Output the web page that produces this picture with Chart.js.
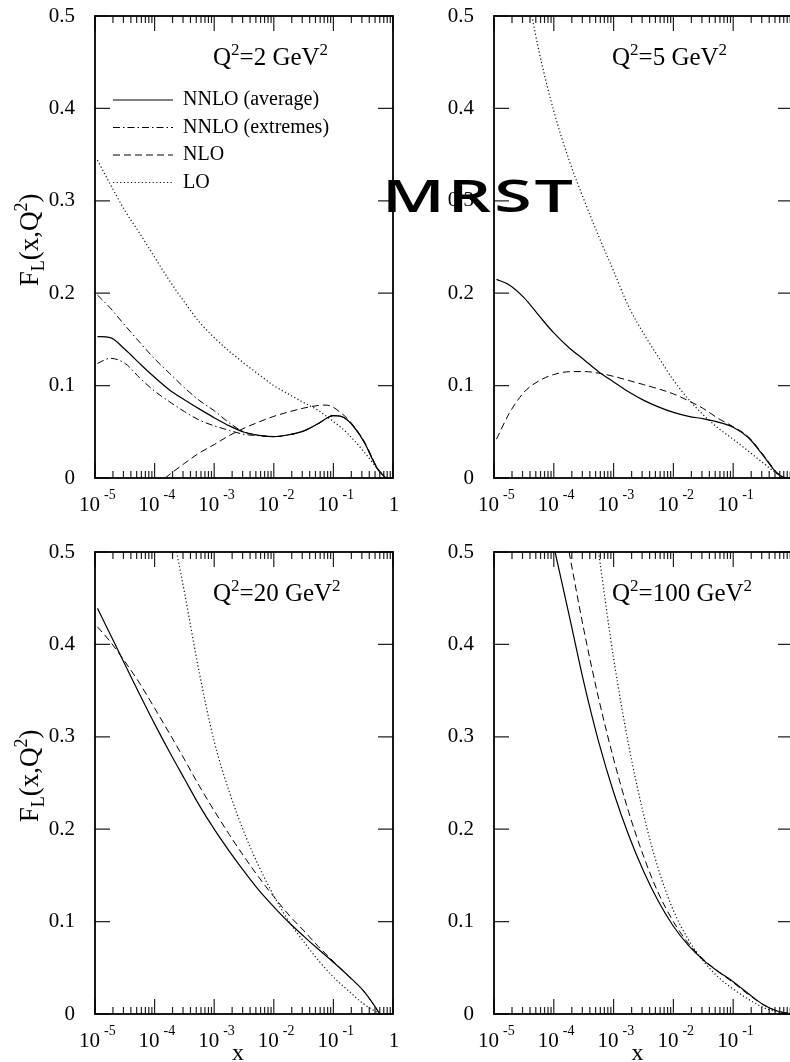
<!DOCTYPE html>
<html>
<head>
<meta charset="utf-8">
<script src="https://cdn.jsdelivr.net/npm/chart.js@4.4.1/dist/chart.umd.min.js"></script>
<style>
html,body{margin:0;padding:0;background:#fff;overflow:hidden;width:790px;height:1062px;}
canvas{position:absolute;}
#mrst{position:absolute;left:382px;top:171px;font:600 46px "Open Sans";letter-spacing:2px;transform-origin:0 0;color:#000;line-height:1;white-space:nowrap;z-index:5;}
</style>
</head>
<body>
<canvas id="c1" width="440" height="530" style="left:0;top:0"></canvas>
<canvas id="c2" width="440" height="530" style="left:400px;top:0"></canvas>
<canvas id="c3" width="440" height="532" style="left:0;top:530px"></canvas>
<canvas id="c4" width="440" height="532" style="left:400px;top:530px"></canvas>
<div id="mrst">MRST</div>
<script>
// ---------- axis / tick definitions ----------
const xMajorTicks = [1e-5, 1e-4, 1e-3, 1e-2, 1e-1, 1];
const xTickExponents = ['-5', '-4', '-3', '-2', '-1', ''];
const xMinorMultipliers = [2, 3, 4, 5, 6, 7, 8, 9];
const yTicks = [0, 0.1, 0.2, 0.3, 0.4, 0.5];
const q2Values = ['2', '5', '20', '100'];
const seriesLabels = ['NNLO (average)', 'NNLO (extremes)', 'NLO', 'LO'];

// ---------- panel 1 : Q^2 = 2 GeV^2 ----------
const x1 = [1.1e-5, 1.8e-5, 3.2e-5, 5.6e-5, 1e-4, 1.8e-4, 3.2e-4, 5.6e-4, 1e-3, 1.8e-3, 3.2e-3, 5.6e-3, 1e-2, 1.8e-2, 3.2e-2, 5.6e-2, 0.1, 0.13, 0.18, 0.32, 0.56, 0.76];
const nnloAvg1 = [0.153, 0.152, 0.139, 0.124, 0.109, 0.095, 0.0844, 0.0748, 0.0653, 0.0564, 0.0495, 0.0462, 0.0448, 0.0468, 0.051, 0.059, 0.0675, 0.067, 0.0615, 0.040, 0.009, 0];
const nnloHi1  = [0.198, 0.184, 0.165, 0.147, 0.129, 0.113, 0.0975, 0.084, 0.0728, 0.0595, 0.0497, 0.0463, 0.0448, 0.0468, 0.051, 0.059, 0.0675, 0.067, 0.0615, 0.040, 0.009, 0];
const nnloLo1  = [0.124, 0.1295, 0.124, 0.1085, 0.094, 0.0823, 0.0717, 0.0627, 0.0565, 0.0515, 0.0472, 0.0458, 0.0448, 0.0468, 0.051, 0.059, 0.0675, 0.067, 0.0615, 0.040, 0.009, 0];
const x1nlo = [1.5e-4, 1.8e-4, 3.2e-4, 5.6e-4, 1e-3, 1.8e-3, 3.2e-3, 5.6e-3, 1e-2, 1.8e-2, 3.2e-2, 5.6e-2, 7.5e-2, 0.1, 0.13, 0.18, 0.32, 0.56, 0.76];
const nlo1 = [0, 0.004, 0.016, 0.027, 0.0362, 0.046, 0.054, 0.0606, 0.0667, 0.0716, 0.0757, 0.0785, 0.0789, 0.0765, 0.071, 0.063, 0.041, 0.010, 0];
const lo1 = [0.344, 0.318, 0.289, 0.265, 0.239, 0.213, 0.190, 0.169, 0.152, 0.137, 0.124, 0.112, 0.100, 0.0905, 0.0815, 0.073, 0.061, 0.0555, 0.047, 0.029, 0.0095, 0.001];

// ---------- panel 2 : Q^2 = 5 GeV^2 ----------
const x2 = [1.1e-5, 1.8e-5, 3.2e-5, 5.6e-5, 1e-4, 1.8e-4, 3.2e-4, 5.6e-4, 1e-3, 1.8e-3, 3.2e-3, 5.6e-3, 1e-2, 1.8e-2, 3.2e-2, 5.6e-2, 0.1, 0.18, 0.32, 0.56, 0.76];
const nnloAvg2 = [0.215, 0.209, 0.195, 0.176, 0.157, 0.141, 0.128, 0.115, 0.104, 0.093, 0.084, 0.077, 0.071, 0.0667, 0.064, 0.0605, 0.055, 0.0435, 0.024, 0.004, 0];
const nlo2 = [0.042, 0.070, 0.093, 0.105, 0.112, 0.115, 0.1152, 0.1135, 0.110, 0.1055, 0.101, 0.0965, 0.091, 0.0835, 0.075, 0.0645, 0.0555, 0.0445, 0.025, 0.005, 0];
const x2lo = [4.3e-5, 5.6e-5, 1e-4, 1.8e-4, 3.2e-4, 5.6e-4, 1e-3, 1.8e-3, 3.2e-3, 5.6e-3, 1e-2, 1.8e-2, 3.2e-2, 5.6e-2, 0.1, 0.18, 0.32, 0.56, 0.76];
const lo2 = [0.5, 0.463, 0.397, 0.344, 0.301, 0.262, 0.224, 0.185, 0.156, 0.131, 0.106, 0.085, 0.068, 0.054, 0.042, 0.029, 0.016, 0.004, 0];

// ---------- panel 3 : Q^2 = 20 GeV^2 ----------
const x3 = [1.1e-5, 1.8e-5, 3.2e-5, 5.6e-5, 1e-4, 1.8e-4, 3.2e-4, 5.6e-4, 1e-3, 1.8e-3, 3.2e-3, 5.6e-3, 1e-2, 1.8e-2, 3.2e-2, 5.6e-2, 0.1, 0.18, 0.32, 0.5, 0.6];
const nnloAvg3 = [0.439, 0.411, 0.378, 0.346, 0.314, 0.283, 0.254, 0.226, 0.200, 0.176, 0.154, 0.134, 0.116, 0.099, 0.084, 0.070, 0.056, 0.041, 0.025, 0.008, 0];
const nlo3 = [0.419, 0.403, 0.381, 0.358, 0.331, 0.303, 0.275, 0.247, 0.220, 0.194, 0.170, 0.148, 0.127, 0.107, 0.090, 0.073, 0.057, 0.041, 0.025, 0.008, 0];
const x3lo = [2.34e-4, 3.2e-4, 5.6e-4, 1e-3, 1.8e-3, 3.2e-3, 5.6e-3, 1e-2, 1.8e-2, 3.2e-2, 5.6e-2, 0.1, 0.18, 0.32, 0.5, 0.6];
const lo3 = [0.5, 0.455, 0.370, 0.295, 0.240, 0.196, 0.160, 0.128, 0.100, 0.078, 0.058, 0.040, 0.025, 0.011, 0.003, 0];

// ---------- panel 4 : Q^2 = 100 GeV^2 ----------
const x4 = [1.05e-4, 1.8e-4, 3.2e-4, 5.6e-4, 1e-3, 1.8e-3, 3.2e-3, 5.6e-3, 1e-2, 1.8e-2, 3.2e-2, 5.6e-2, 0.1, 0.18, 0.32, 0.56, 1];
const nnloAvg4 = [0.5, 0.432, 0.358, 0.295, 0.240, 0.193, 0.154, 0.122, 0.095, 0.074, 0.058, 0.046, 0.035, 0.022, 0.010, 0.003, 0];
const x4nlo = [1.8e-4, 3.2e-4, 5.6e-4, 1e-3, 1.8e-3, 3.2e-3, 5.6e-3, 1e-2, 1.8e-2, 3.2e-2, 5.6e-2, 0.1, 0.18, 0.32, 0.56, 1];
const nlo4 = [0.5, 0.415, 0.342, 0.276, 0.218, 0.170, 0.131, 0.100, 0.076, 0.059, 0.046, 0.034, 0.021, 0.010, 0.003, 0];
const x4lo = [5.6e-4, 1e-3, 1.8e-3, 3.2e-3, 5.6e-3, 1e-2, 1.8e-2, 3.2e-2, 5.6e-2, 0.1, 0.18, 0.32, 0.56, 1];
const lo4 = [0.5, 0.385, 0.290, 0.215, 0.157, 0.112, 0.080, 0.057, 0.040, 0.027, 0.016, 0.007, 0.002, 0];

// ---------- watermark width fit ----------
(function () {
  const m = document.getElementById('mrst');
  const w = m.getBoundingClientRect().width - 2;
  m.style.transform = 'scaleX(' + (191 / w) + ')';
})();

// ---------- styles ----------
const SERIF = '"Liberation Serif", "Times New Roman", serif';
Chart.defaults.font.family = SERIF;
Chart.defaults.color = '#000';
const STYLE = {
  avg: {borderColor: '#000', borderWidth: 1.2, borderDash: []},
  ext: {borderColor: '#000', borderWidth: 1.0, borderDash: [7, 3, 1.5, 3]},
  nlo: {borderColor: '#000', borderWidth: 1.0, borderDash: [7, 4]},
  lo:  {borderColor: '#111', borderWidth: 1.2, borderDash: [1.2, 2.4]}
};
function series(label, xs, ys, sty) {
  return Object.assign({
    label: label,
    data: xs.map((x, i) => ({x: x, y: ys[i]})),
    pointRadius: 0, pointHoverRadius: 0, pointStyle: 'line',
    cubicInterpolationMode: 'monotone', fill: false,
    backgroundColor: 'transparent'
  }, sty);
}

const allXTicks = [];
xMajorTicks.forEach((v, i) => {
  allXTicks.push({value: v, major: true});
  if (i < xMajorTicks.length - 1) xMinorMultipliers.forEach(m => allXTicks.push({value: m * v, major: false}));
});

function richWidth(ctx, parts) {
  let w = 0;
  parts.forEach(p => { ctx.font = p.size + 'px ' + SERIF; w += ctx.measureText(p.t).width + (p.gap || 0); });
  return w;
}
function drawRich(ctx, parts, x, y) {
  let cx = x;
  parts.forEach(p => {
    ctx.font = p.size + 'px ' + SERIF;
    ctx.fillText(p.t, cx, y + (p.dy || 0));
    cx += ctx.measureText(p.t).width + (p.gap || 0);
  });
}

const decor = {
  id: 'decor',
  afterLayout(chart, args, o) {
    // pin the plotting frame to the reference geometry
    const r = o.area, a = chart.chartArea, xs = chart.scales.x, ys = chart.scales.y;
    a.left = r.left; a.right = r.right; a.top = r.top; a.bottom = r.bottom;
    a.width = r.right - r.left; a.height = r.bottom - r.top;
    xs.left = r.left; xs.right = r.right; xs.width = a.width; xs.top = r.bottom; xs.bottom = chart.height;
    xs.height = chart.height - r.bottom;
    ys.left = 0; ys.right = r.left; ys.width = r.left; ys.top = r.top; ys.bottom = r.bottom; ys.height = a.height;
    xs.configure(); ys.configure();
    if (o.legend && chart.legend) {
      chart.legend.left = r.left + 10.5;
      chart.legend.top = r.top + 66.5;
    }
  },
  afterDraw(chart, args, o) {
    const ctx = chart.ctx, a = chart.chartArea, xs = chart.scales.x, ys = chart.scales.y;
    ctx.save();
    // tick marks (inside the frame)
    ctx.strokeStyle = '#222';
    ctx.lineWidth = 1.2;
    ctx.beginPath();
    allXTicks.forEach(t => {
      const px = xs.getPixelForValue(t.value);
      if (px < a.left - 0.5 || px > a.right + 0.5) return;
      const len = t.major ? 15 : 7;
      ctx.moveTo(px, a.bottom); ctx.lineTo(px, a.bottom - len);
      ctx.moveTo(px, a.top); ctx.lineTo(px, a.top + len);
    });
    yTicks.forEach(v => {
      const py = ys.getPixelForValue(v);
      ctx.moveTo(a.left, py); ctx.lineTo(a.left + 15, py);
      ctx.moveTo(a.right, py); ctx.lineTo(a.right - 15, py);
    });
    ctx.stroke();
    // frame
    ctx.strokeStyle = '#000';
    ctx.lineWidth = 1.8;
    ctx.strokeRect(a.left, a.top, a.right - a.left, a.bottom - a.top);
    // x tick labels 10^n
    ctx.fillStyle = '#000';
    ctx.textBaseline = 'alphabetic';
    ctx.textAlign = 'left';
    xMajorTicks.forEach((v, i) => {
      const px = xs.getPixelForValue(v);
      const e = xTickExponents[i];
      if (!e) {
        ctx.font = '21px ' + SERIF;
        ctx.textAlign = 'center';
        ctx.fillText('1', px + 1, a.bottom + 33);
        ctx.textAlign = 'left';
        return;
      }
      drawRich(ctx, [{t: '10', size: 21, gap: 4}, {t: e, size: 14, dy: -12}], px - 16, a.bottom + 33);
    });
    // Q^2 annotation
    drawRich(ctx, [
      {t: 'Q', size: 25}, {t: '2', size: 17, dy: -10},
      {t: '=' + o.q + ' GeV', size: 25}, {t: '2', size: 17, dy: -10}
    ], a.left + 118, a.top + 49);
    // y title  F_L(x,Q^2)
    if (o.yTitle) {
      const parts = [
        {t: 'F', size: 27}, {t: 'L', size: 18, dy: 6},
        {t: '(x,Q', size: 27}, {t: '2', size: 18, dy: -11}, {t: ')', size: 27}
      ];
      const w = richWidth(ctx, parts);
      ctx.translate(38, (a.top + a.bottom) / 2 - 7);
      ctx.rotate(-Math.PI / 2);
      drawRich(ctx, parts, -w / 2, 0);
      ctx.setTransform(1, 0, 0, 1, 0, 0);
    }
    // x title
    if (o.xTitle) {
      ctx.font = '24px ' + SERIF;
      ctx.textAlign = 'center';
      ctx.fillText('x', (a.left + a.right) / 2 - 6, a.bottom + 46);
    }
    ctx.restore();
  }
};

function legendLabels(chart) {
  const items = Chart.defaults.plugins.legend.labels.generateLabels(chart);
  items.forEach(it => {
    const d = chart.data.datasets[it.datasetIndex];
    it.lineDash = d.borderDash;
    it.lineWidth = d.borderWidth;
    it.strokeStyle = d.borderColor;
    it.fillStyle = 'transparent';
  });
  return items;
}

function makePanel(id, datasets, cfg) {
  return new Chart(document.getElementById(id), {
    type: 'line',
    data: {datasets: datasets},
    plugins: [decor],
    options: {
      responsive: false, animation: false, devicePixelRatio: 1, events: [],
      layout: {padding: {top: 16, right: 47, left: 0, bottom: 0}},
      plugins: {
        tooltip: {enabled: false},
        decor: {q: cfg.q, yTitle: cfg.yTitle, xTitle: cfg.xTitle, legend: cfg.legend, area: cfg.area},
        legend: {
          display: !!cfg.legend, position: 'chartArea', align: 'start',
          labels: {
            usePointStyle: true, pointStyleWidth: 60, boxHeight: 20, padding: 7.5,
            font: {size: 20, family: SERIF}, color: '#000',
            generateLabels: legendLabels,
            filter: item => item.datasetIndex !== 2
          }
        }
      },
      scales: {
        x: {
          type: 'logarithmic', min: 1e-5, max: 1,
          grid: {display: false, drawTicks: false}, border: {display: false},
          ticks: {display: false},
          afterBuildTicks: s => { s.ticks = allXTicks.map(t => ({value: t.value, major: t.major})); },
          afterFit: s => { s.height = cfg.xAxisH; }
        },
        y: {
          type: 'linear', min: 0, max: 0.5,
          grid: {display: false, drawTicks: false}, border: {display: false},
          ticks: {stepSize: 0.1, padding: 20, font: {size: 21, family: SERIF}, color: '#000'},
          afterFit: s => { s.width = cfg.yAxisW; }
        }
      }
    }
  });
}

makePanel('c1', [
  series(seriesLabels[0], x1, nnloAvg1, STYLE.avg),
  series(seriesLabels[1], x1, nnloHi1, STYLE.ext),
  series(seriesLabels[1], x1, nnloLo1, STYLE.ext),
  series(seriesLabels[2], x1nlo, nlo1, STYLE.nlo),
  series(seriesLabels[3], x1, lo1, STYLE.lo)
], {q: q2Values[0], xAxisH: 52, yAxisW: 95, yTitle: true, xTitle: false, legend: true,
    area: {left: 95, right: 393, top: 16, bottom: 478}});

makePanel('c2', [
  series(seriesLabels[0], x2, nnloAvg2, STYLE.avg),
  series(seriesLabels[2], x2, nlo2, STYLE.nlo),
  series(seriesLabels[3], x2lo, lo2, STYLE.lo)
], {q: q2Values[1], xAxisH: 52, yAxisW: 94, yTitle: false, xTitle: false, legend: false,
    area: {left: 94, right: 393, top: 16, bottom: 478}});

makePanel('c3', [
  series(seriesLabels[0], x3, nnloAvg3, STYLE.avg),
  series(seriesLabels[2], x3, nlo3, STYLE.nlo),
  series(seriesLabels[3], x3lo, lo3, STYLE.lo)
], {q: q2Values[2], xAxisH: 48, yAxisW: 95, yTitle: true, xTitle: true, legend: false,
    area: {left: 95, right: 393, top: 22, bottom: 484}});

makePanel('c4', [
  series(seriesLabels[0], x4, nnloAvg4, STYLE.avg),
  series(seriesLabels[2], x4nlo, nlo4, STYLE.nlo),
  series(seriesLabels[3], x4lo, lo4, STYLE.lo)
], {q: q2Values[3], xAxisH: 48, yAxisW: 94, yTitle: false, xTitle: true, legend: false,
    area: {left: 94, right: 393, top: 22, bottom: 484}});
</script>
</body>
</html>
